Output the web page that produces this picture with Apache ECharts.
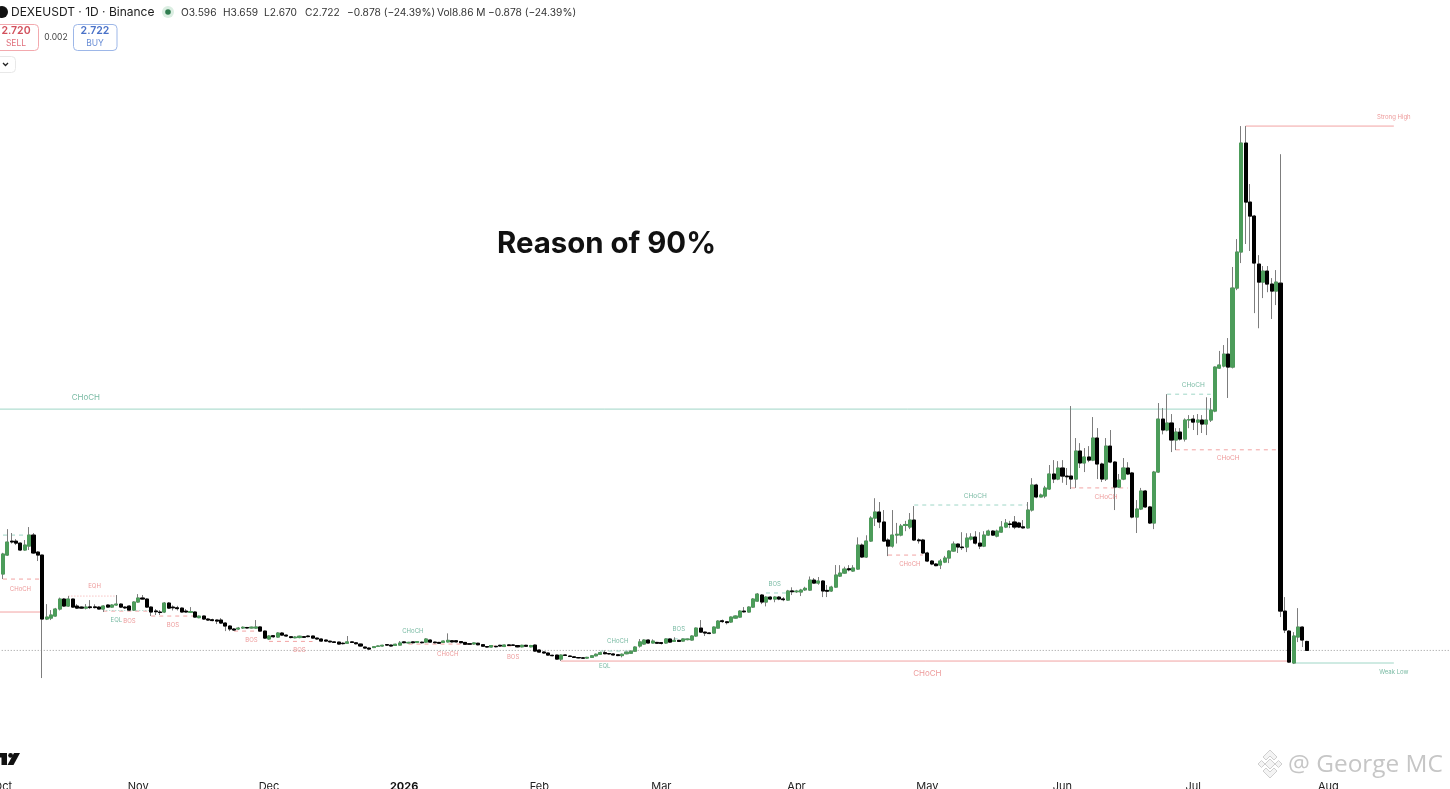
<!DOCTYPE html>
<html><head><meta charset="utf-8">
<style>html,body{margin:0;padding:0;background:#fff;overflow:hidden}#c{width:1450px;height:789px}</style>
<script src="https://cdn.jsdelivr.net/npm/echarts@6/dist/echarts.min.js"></script>
</head><body><div id="c"></div>
<script>
const firstDate = '2025-09-08', dayZero = 23, dayCount = 356;   // dayZero = 1 Oct 2025
const opens = [
10.14,11.98,13.33,13.33,13.14,12.47,12.85,13.92,12.27,11.98,
5.77,5.86,6.06,6.74,7.71,7.03,7.71,7.03,6.93,6.83,
6.95,6.95,6.93,6.74,7.13,6.93,7.13,7.22,6.93,7.03,
6.64,7.42,7.81,7.71,6.93,6.55,6.45,6.45,7.32,6.93,
6.86,6.83,6.54,6.42,6.45,5.9,6.06,5.77,5.7,5.67,
5.67,5.38,5.09,4.8,4.8,4.9,4.95,4.9,4.89,5.0,
4.6,3.83,4.15,4.02,4.41,4.21,4.05,3.95,3.97,4.05,
4.12,4.12,3.92,3.83,3.73,3.62,3.55,3.53,3.42,3.42,
3.55,3.46,3.34,3.05,2.95,3.0,3.12,3.15,3.28,3.24,
3.2,3.24,3.55,3.45,3.55,3.5,3.52,3.53,3.73,3.53,
3.5,3.5,3.55,3.66,3.66,3.58,3.5,3.37,3.35,3.42,
3.28,3.1,3.05,3.12,3.22,3.1,3.26,3.25,3.2,3.07,
3.22,3.07,3.24,2.76,2.57,2.47,2.25,2.27,1.88,2.28,
2.18,2.1,2.03,2.0,1.98,2.05,2.2,2.35,2.5,2.42,
2.38,2.3,2.22,2.4,2.45,2.65,3.15,3.34,3.73,3.44,
3.5,3.48,3.44,3.83,3.6,3.7,3.63,3.77,3.73,4.12,
4.89,4.5,4.42,4.41,4.89,5.6,5.5,5.48,5.86,5.96,
6.54,6.45,6.93,7.51,8.1,7.42,7.9,7.71,7.9,7.72,
7.61,8.5,8.42,8.39,8.6,8.58,9.55,9.26,9.46,8.55,
8.49,8.87,9.94,10.23,10.65,10.43,10.62,12.95,11.79,13.34,
15.57,16.16,15.19,13.44,12.85,13.92,13.92,14.85,14.7,15.38,
13.45,13.44,12.18,11.4,11.11,11.01,11.3,11.69,12.37,13.05,
12.76,12.76,13.53,13.73,13.14,12.85,13.92,14.31,13.82,14.21,
14.7,15.0,15.19,15.09,14.72,14.62,16.35,18.78,17.62,17.71,
18.39,19.85,19.36,20.43,19.65,19.65,19.36,22.08,20.92,21.5,
21.2,23.34,20.82,19.36,22.56,21.01,18.58,19.36,20.43,19.95,
15.67,16.45,18.2,16.65,15.09,20.04,25.18,24.12,24.8,23.15,
23.92,23.24,25.09,25.18,24.89,25.09,24.7,25.09,25.96,30.13,
30.33,31.49,30.23,37.9,41.4,51.98,46.25,44.89,40.23,38.48,
39.55,38.29,37.61,38.38,6.54,4.6,1.5,4.02,4.99,3.596];
const closes = [
12.08,13.24,13.25,13.14,12.47,12.95,13.92,12.18,11.98,5.77,
5.96,6.16,6.74,7.71,7.03,7.71,6.93,6.83,6.83,6.93,
6.88,6.88,6.74,7.03,6.93,7.13,7.22,6.93,6.85,6.64,
7.42,7.81,7.71,6.93,6.45,6.48,6.40,7.32,6.83,6.86,
6.78,6.45,6.45,6.5,5.96,6.05,5.77,5.67,5.62,5.57,
5.38,5.09,4.8,4.7,4.89,4.97,4.9,4.98,5.0,4.6,
3.92,4.12,4.05,4.41,4.21,4.12,3.97,4.02,4.1,4.0,
4.06,3.92,3.83,3.63,3.63,3.55,3.5,3.34,3.38,3.55,
3.5,3.37,3.15,2.95,2.85,3.08,3.15,3.22,3.24,3.15,
3.32,3.44,3.47,3.5,3.47,3.58,3.47,3.83,3.53,3.47,
3.42,3.63,3.7,3.55,3.55,3.47,3.32,3.33,3.45,3.27,
3.13,3.05,3.2,3.08,3.15,3.25,3.2,3.22,3.07,3.22,
3.13,3.2,2.66,2.56,2.47,2.27,2.21,1.88,2.27,2.24,
2.13,2.04,2.0,1.97,2.05,2.2,2.35,2.5,2.4,2.38,
2.28,2.22,2.35,2.55,2.65,3.05,3.55,3.73,3.44,3.63,
3.42,3.4,3.83,3.53,3.7,3.6,3.83,3.83,4.12,4.89,
4.5,4.41,4.36,4.99,5.57,5.52,5.42,5.96,6.06,6.54,
6.47,6.93,7.71,8.19,7.42,7.9,7.71,7.9,7.71,7.65,
8.49,8.42,8.48,8.58,8.75,9.55,9.26,9.46,8.49,8.47,
8.87,10.04,10.23,10.62,10.55,10.72,12.95,11.79,13.34,15.57,
16.16,15.19,13.34,12.85,13.92,14.0,14.8,14.95,15.38,13.44,
13.37,12.18,11.4,11.11,10.95,11.4,11.69,12.37,13.05,12.76,
12.7,13.63,13.73,13.14,12.85,13.92,14.31,13.92,14.31,14.7,
15.09,14.95,14.7,14.7,14.62,16.35,18.78,17.62,17.81,18.49,
19.85,19.36,20.43,19.65,19.58,19.36,22.08,20.92,21.5,21.2,
23.34,20.82,19.36,22.56,21.01,18.58,19.26,20.43,19.85,15.67,
16.45,18.2,16.65,15.09,20.04,25.18,24.12,24.8,23.15,23.92,
23.24,25.09,25.14,24.89,25.09,24.7,25.09,26.06,30.23,30.43,
31.49,30.23,37.9,41.4,51.98,46.25,44.89,40.33,38.48,39.55,
38.29,37.61,38.48,6.54,4.7,1.59,4.12,4.99,3.73,2.722];
const lows = [
9.65,11.9,13.1,12.95,12.37,12.4,12.47,12.1,11.4,0.04,
5.67,5.67,6.0,6.6,6.95,6.95,6.85,6.74,6.75,6.7,
6.74,6.8,6.7,6.45,6.85,6.85,7.05,6.85,6.75,6.55,
6.55,7.35,7.65,6.85,6.06,6.16,6.16,6.35,6.74,6.6,
6.6,6.4,6.4,6.35,5.9,5.85,5.7,5.6,5.55,5.28,
5.3,4.6,4.6,4.62,4.7,4.8,4.85,4.85,4.82,4.55,
3.85,3.75,3.95,3.95,4.15,4.05,3.9,3.9,3.9,3.95,
4.0,3.85,3.75,3.55,3.55,3.5,3.45,3.3,3.3,3.35,
3.45,3.3,3.1,2.9,2.8,2.95,3.05,3.1,3.18,3.1,
3.15,3.2,3.42,3.4,3.4,3.45,3.4,3.48,3.48,3.4,
3.38,3.45,3.5,3.5,3.5,3.4,3.28,3.28,3.3,3.22,
3.08,3.0,3.0,3.02,3.1,3.05,3.15,3.17,3.02,3.02,
3.08,3.02,2.6,2.5,2.42,2.22,2.15,1.83,1.69,2.18,
2.08,2.0,1.95,1.92,1.93,2.0,2.15,2.3,2.35,2.32,
2.22,2.17,2.05,2.35,2.4,2.6,3.0,3.28,3.4,3.4,
3.38,3.3,3.38,3.48,3.55,3.55,3.58,3.7,3.68,4.05,
4.45,4.12,4.3,4.35,4.85,5.4,5.25,5.4,5.8,5.9,
6.4,6.4,6.85,7.45,7.22,7.0,7.6,7.4,7.6,7.5,
7.55,8.1,8.3,8.0,8.5,8.5,9.2,9.1,7.9,7.9,
8.4,8.8,9.85,10.15,10.4,10.35,10.55,11.7,11.7,13.25,
14.8,14.6,13.25,11.88,12.7,13.1,13.8,14.3,14.5,13.35,
13.1,12.1,11.3,11.0,10.9,10.62,11.2,11.2,12.3,12.18,
12.47,12.27,13.4,13.0,12.56,12.75,13.85,13.85,13.7,14.15,
14.6,14.6,14.5,14.6,14.55,14.55,16.2,17.5,17.6,17.5,
18.3,18.97,19.25,19.0,18.78,18.39,18.5,20.43,20.04,21.0,
21.1,19.36,19.07,19.17,20.9,16.35,18.5,19.25,19.75,15.55,
14.12,16.35,16.55,15.0,14.5,19.95,23.7,24.0,21.98,22.17,
23.1,23.0,24.3,24.12,23.63,23.83,23.63,24.9,25.85,30.05,
30.2,27.23,30.1,37.7,40.33,42.18,41.5,35.47,34.0,36.93,
37.5,34.9,36.25,5.96,4.41,1.5,1.4,3.53,3.05,2.67];
const highs = [
12.2,14.5,14.12,13.53,13.2,13.44,14.7,14.12,12.35,12.0,
7.22,6.64,6.85,7.85,7.8,8.0,7.75,7.22,7.0,7.22,
7.61,7.2,7.0,7.1,7.2,7.2,8.1,7.3,7.0,7.1,
7.5,8.19,8.1,7.78,7.0,6.74,6.64,7.42,7.42,7.1,
7.05,6.9,6.74,6.93,6.5,6.1,6.1,5.85,5.8,5.72,
5.86,5.45,5.15,4.88,5.0,5.05,5.0,5.03,5.67,5.05,
4.65,4.2,4.2,4.5,4.5,4.25,4.1,4.1,4.15,4.1,
4.18,4.15,3.95,3.87,3.75,3.65,3.6,3.57,3.5,4.12,
3.6,3.5,3.38,3.08,3.0,3.12,3.2,3.27,3.32,3.28,
3.37,3.63,3.6,3.55,3.6,3.62,3.58,3.92,3.8,3.58,
3.55,3.68,4.38,3.72,3.7,3.62,3.53,3.42,3.5,3.46,
3.32,3.15,3.25,3.17,3.27,3.3,3.3,3.3,3.23,3.27,
3.26,3.26,3.3,2.8,2.62,2.5,2.3,2.3,2.33,2.32,
2.22,2.14,2.07,2.05,2.1,2.25,2.42,2.6,2.72,2.47,
2.42,2.35,2.42,2.6,2.72,3.12,3.83,3.8,3.78,3.8,
3.55,3.52,3.9,3.88,4.0,3.75,3.88,3.87,4.18,4.95,
5.67,4.55,4.48,5.05,5.65,5.72,5.58,6.02,6.12,6.62,
6.93,7.0,7.8,8.3,8.2,7.98,7.98,7.98,8.0,7.9,
8.6,8.85,8.6,8.7,8.9,9.9,9.75,9.85,9.55,9.07,
9.0,11.01,11.0,10.85,11.0,11.0,13.7,13.1,13.9,15.75,
17.5,17.13,16.35,13.6,16.35,15.1,15.0,15.3,16.06,16.74,
13.6,13.55,12.3,11.5,11.2,11.6,11.9,12.45,13.3,13.1,
14.2,14.1,14.1,14.3,14.2,14.3,14.45,14.4,14.45,15.28,
15.48,15.3,15.77,15.2,15.38,17.13,19.45,18.9,17.95,18.7,
20.72,21.2,21.1,21.2,20.43,26.45,23.34,22.85,22.37,22.56,
25.38,24.31,20.95,23.34,24.12,21.1,19.85,21.4,21.0,20.05,
17.32,18.5,18.3,16.75,20.15,26.74,26.25,27.6,25.67,24.3,
24.31,25.25,25.57,25.57,25.67,25.57,27.3,27.23,30.3,31.8,
32.37,33.05,39.95,42.66,53.63,53.63,48.0,45.0,41.1,40.04,
40.04,38.87,39.65,50.9,7.9,4.7,4.5,6.83,5.05,3.659];

// level lines: first day, last day (days after 1 Oct 2025), price
const lineTeal   = [[-1,277,26.15],[296,319,1.5]];
const lineRed    = [[-1,9,6.45],[128,295,1.69],[285,319,53.63]];
const dashRed    = [[0,9,9.65],[23,34,6.54],[34,44,6.06],[53,59,4.6],[61,71,3.6],[93,108,3.34],[112,122,3.15],[203,211,11.98],[245,258,18.5],[269,293,22.2]];
const dashGreen  = [[0,5,13.92],[91,97,3.53],[137,145,2.66],[152,157,3.85],[175,180,8.3],[209,235,16.84],[267,277,27.6]];
const dotRed     = [[15,26,8.0]];
const dotGreen   = [[23,34,6.6],[54,59,4.89]];
const lastPrice  = 2.722;

// tags: text, day, price, font size
const tagsGreen = [['CHoCH',19,27.3,8],['EQL',25.7,5.67,6],['CHoCH',94,4.62,6],['CHoCH',141,3.65,6],['EQL',137.8,1.2,6],['BOS',155,4.8,6],['BOS',176.8,9.17,6],['CHoCH',222.9,17.7,6.5],['CHoCH',272.9,28.5,6.5],['Weak Low',319,0.62,6]];
const tagsRed = [['CHoCH',3.9,8.7,6],['EQH',20.9,9.0,6],['BOS',29.1,5.6,6],['BOS',39,5.2,6],['BOS',56.9,3.75,6],['BOS',67.9,2.76,6],['CHoCH',101.8,2.39,6],['BOS',117,2.1,6],['CHoCH',208,11.1,6],['CHoCH',252.8,17.6,6.5],['CHoCH',281,21.4,6.5],['CHoCH',212,0.52,8],['Strong High',318.8,54.5,6]];

const monthNames = ['Jan','Feb','Mar','Apr','May','Jun','Jul','Aug','Sep','Oct','Nov','Dec'];
const categories = [];
{ const d0 = new Date(firstDate+'T00:00:00Z');
  for (let k=0;k<dayCount;k++){ const d=new Date(d0.getTime()+k*864e5); categories.push(d.toISOString().slice(0,10)); } }

const step = 4.36, x0 = 3;
const PAL = {green:'#4c9c5a', greenEdge:'#4c9c5a', black:'#000', wick:'#7d7d7d',
  teal:'#9fd6c6', tealText:'#55a88b', red:'#f2a3a3', redText:'#e87f7f'};
const wickData = categories.map((c,k)=>{const i=k-dayZero; return i>=0&&i<opens.length?[opens[i],closes[i],lows[i],highs[i]]:'-';});
const bodyData = categories.map((c,k)=>{const i=k-dayZero; if(!(i>=0&&i<opens.length)) return '-';
  const a=opens[i],b=closes[i]; return [a,b,Math.min(a,b),Math.max(a,b)];});

function levelSeries(list,color,type,w){ return list.map(r=>({type:'line',silent:true,symbol:'none',z:1,
  lineStyle:{color,width:w||1,type},data:[[r[0]+dayZero,r[2]],[r[1]+dayZero,r[2]]],animation:false})); }
function tagSeries(list,color){ return {type:'scatter',silent:true,symbolSize:0,z:4,animation:false,
  data:list.map(t=>({name:t[0],value:[t[1]+dayZero,t[2]],label:{show:true,position:'inside',formatter:t[0],color,fontSize:t[3],fontFamily:'Inter'}}))}; }

const dia=(cx,cy,r)=>[[cx,cy-r],[cx+r,cy],[cx,cy+r],[cx-r,cy]];
const hdr=(x,y,text,size,color,opt)=>({type:'text',x,y,style:Object.assign({text,fontSize:size,fontFamily:'Inter',fill:color,textVerticalAlign:'middle',verticalAlign:'middle'},opt||{})});
const box=(x,y,w,h,stroke)=>({type:'rect',shape:{x,y,width:w,height:h,r:4},style:{fill:'#fff',stroke,lineWidth:1}});

const graphics=[
 {type:'circle',shape:{cx:2,cy:12,r:6},style:{fill:'#111'}},
 hdr(11,12,'DEXEUSDT · 1D · Binance',12,'#1a1a1a'),
 {type:'circle',shape:{cx:168,cy:12,r:6},style:{fill:'#dbeee2'}},
 {type:'circle',shape:{cx:168,cy:12,r:2.8},style:{fill:'#2f7d4f'}},
 hdr(181,12.5,'O3.596',10.2,'#333'),hdr(223,12.5,'H3.659',10.2,'#333'),hdr(264,12.5,'L2.670',10.2,'#333'),hdr(305,12.5,'C2.722',10.2,'#333'),
 hdr(347,12.5,'−0.878 (−24.39%)',10.2,'#333'),hdr(437,12.5,'Vol8.86 M',10.2,'#333'),hdr(488,12.5,'−0.878 (−24.39%)',10.2,'#333'),
 box(-6,24.5,44.5,26,'#f3a9ae'),
 hdr(16,31,'2.720',10.5,'#d2505c',{textAlign:'center',align:'center',fontWeight:600}),
 hdr(16,43,'SELL',8.5,'#e0707c',{textAlign:'center',align:'center'}),
 hdr(56,37,'0.002',8.5,'#444',{textAlign:'center',align:'center'}),
 box(73.5,24.5,43.5,26,'#9db7e8'),
 hdr(95,31,'2.722',10.5,'#4a72c8',{textAlign:'center',align:'center',fontWeight:600}),
 hdr(95,43,'BUY',8.5,'#6b8fd6',{textAlign:'center',align:'center'}),
 box(-4,56.5,19.5,16,'#e8e8e8'),
 {type:'polyline',shape:{points:[[3,63],[5.5,65.5],[8,63]]},style:{stroke:'#222',lineWidth:1.3,fill:null}},
 hdr(497,244,'Reason of 90%',29.4,'#111',{fontWeight:700}),
 // TradingView mark
 {type:'polygon',shape:{points:[[-3,753],[7,753],[7,765],[1.5,765],[1.5,757.5],[-3,757.5]]},style:{fill:'#111'}},
 {type:'circle',shape:{cx:10.6,cy:755.4,r:2.4},style:{fill:'#111'}},
 {type:'polygon',shape:{points:[[14,753],[20,753],[13.5,765],[7.5,765]]},style:{fill:'#111'}},
 // watermark
 {type:'polygon',shape:{points:dia(1270,764,5)},style:{fill:'#f4f4f4',stroke:'#cfcfcf',lineWidth:1}},
 {type:'polygon',shape:{points:dia(1261.5,764,3.5)},style:{fill:'#f4f4f4',stroke:'#cfcfcf',lineWidth:1}},
 {type:'polygon',shape:{points:dia(1278.5,764,3.5)},style:{fill:'#f4f4f4',stroke:'#cfcfcf',lineWidth:1}},
 {type:'polyline',shape:{points:[[1263,757],[1270,750],[1277,757],[1274,760],[1270,756],[1266,760],[1263,757]]},style:{fill:'#f4f4f4',stroke:'#cfcfcf',lineWidth:1}},
 {type:'polyline',shape:{points:[[1263,771],[1270,778],[1277,771],[1274,768],[1270,772],[1266,768],[1263,771]]},style:{fill:'#f4f4f4',stroke:'#cfcfcf',lineWidth:1}},
 hdr(1288,765,'@ George MC',24.4,'#c6c6c6',{fontFamily:'Open Sans',letterSpacing:0.8}),
];

const chart=echarts.init(document.getElementById('c'),null,{renderer:'canvas'});
chart.setOption({
 animation:false,backgroundColor:'#fff',
 grid:{left:x0-(dayZero+0.5)*step,width:dayCount*step,top:0,height:769,containLabel:false,outerBoundsMode:'none'},
 xAxis:{type:'category',data:categories,boundaryGap:true,axisLine:{show:false},axisTick:{show:false},splitLine:{show:false},
  axisLabel:{show:true,margin:12,hideOverlap:false,interval:(k,v)=>v.slice(8)==='01',
   formatter:v=>{const m=+v.slice(5,7); return m===1?'{y|'+v.slice(0,4)+'}':'{m|'+monthNames[m-1]+'}';},
   rich:{m:{fontSize:11,fontFamily:'Inter',color:'#222'},y:{fontSize:11,fontFamily:'Inter',fontWeight:700,color:'#111'}}}},
 yAxis:{type:'value',show:false,min:-8.79,max:65.87,scale:false,splitLine:{show:false}},
 series:[
  {type:'candlestick',data:wickData,barWidth:3.6,silent:true,z:2,itemStyle:{color:PAL.wick,color0:PAL.wick,borderColor:PAL.wick,borderColor0:PAL.wick,borderWidth:1}},
  {type:'candlestick',data:bodyData,barWidth:3.6,silent:true,z:3,itemStyle:{color:PAL.green,color0:PAL.black,borderColor:PAL.greenEdge,borderColor0:PAL.black,borderWidth:1}},
  {type:'line',silent:true,symbol:'none',z:1,lineStyle:{color:'#9a9a9a',width:1,type:[1,2]},data:[[0,lastPrice],[dayCount-1,lastPrice]]},
  ...levelSeries(lineTeal,PAL.teal,'solid'),
  ...levelSeries(lineRed,PAL.red,'solid'),
  ...levelSeries(dashRed,PAL.red,[4,4]),
  ...levelSeries(dashGreen,PAL.teal,[4,4]),
  ...levelSeries(dotRed,PAL.red,[1,2]),
  ...levelSeries(dotGreen,PAL.teal,[1,2]),
  tagSeries(tagsGreen,PAL.tealText),
  tagSeries(tagsRed,PAL.redText)
 ],
 graphic:{elements:graphics}
});
</script></body></html>
